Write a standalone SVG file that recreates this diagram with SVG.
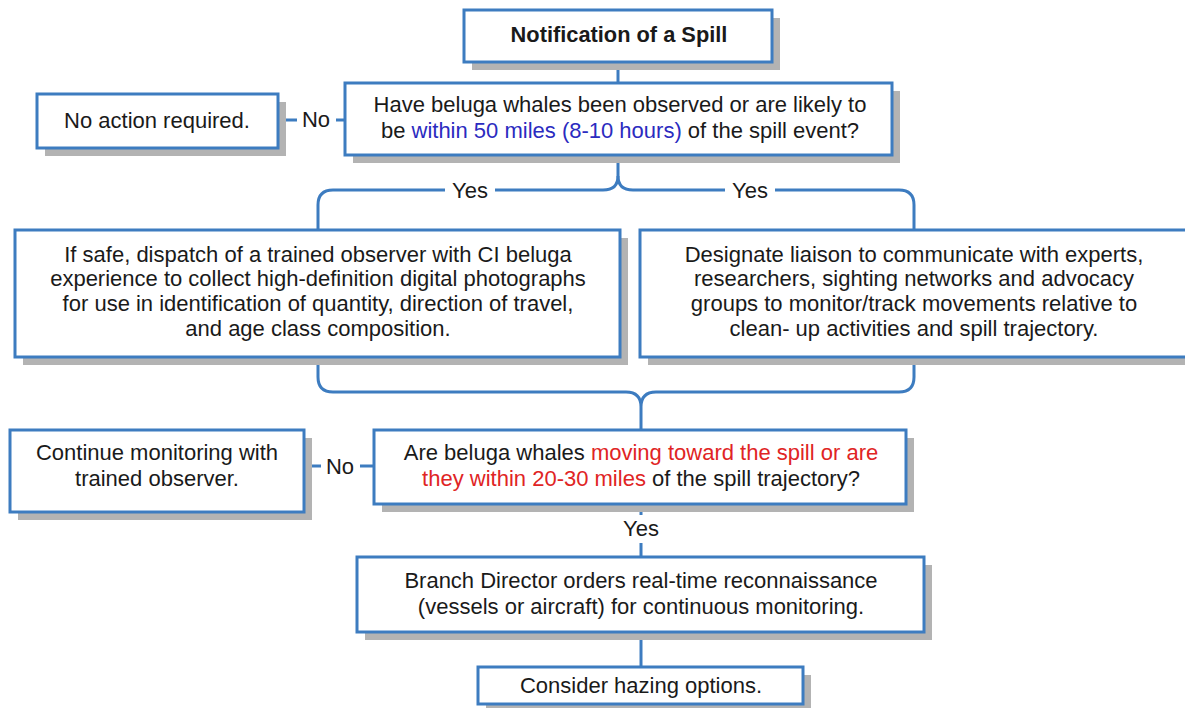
<svg xmlns="http://www.w3.org/2000/svg" width="1185" height="708" viewBox="0 0 1185 708">
<style>
.sh{fill:#b3b3b3}
.bx{fill:#fff;stroke:#3d7cc0;stroke-width:3}
.cn{fill:none;stroke:#3d7cc0;stroke-width:3}
text{font-family:"Liberation Sans",Arial,sans-serif;font-size:22px;fill:#1a1a1a;text-anchor:middle}
.b{font-weight:bold;font-size:21.8px}
.bl{fill:#2b2bc0}
.rd{fill:#e02424}
</style>
<rect width="1185" height="708" fill="#fff"/>
<g id="connectors">
<path class="cn" d="M618,62 V83"/>
<path class="cn" d="M278,120 H297 M336,120 H345"/>
<path class="cn" d="M618,155 V176 Q618,190 603,190 H495 M445,190 H333 Q318,190 318,205 V230"/>
<path class="cn" d="M618,176 Q618,190 633,190 H725 M775,190 H899 Q914,190 914,205 V230"/>
<path class="cn" d="M318,357 V377 Q318,392 333,392 H626 Q641,392 641,407 V430 M914,357 V377 Q914,392 899,392 H656 Q641,392 641,407"/>
<path class="cn" d="M304,466 H321 M360,466 H374"/>
<path class="cn" d="M641,504 V515 M641,543 V557"/>
<path class="cn" d="M641,632 V667"/>
<text x="316" y="127">No</text>
<text x="470" y="198">Yes</text>
<text x="750" y="198">Yes</text>
<text x="340" y="474">No</text>
<text x="641" y="536">Yes</text>
</g>
<g id="n1">
<rect class="sh" x="472" y="18" width="308" height="52"/>
<rect class="bx" x="464" y="10" width="308" height="52"/>
<text class="b" x="619" y="42">Notification of a Spill</text>
</g>
<g id="n2">
<rect class="sh" x="45" y="102" width="241" height="54"/>
<rect class="bx" x="37" y="94" width="241" height="54"/>
<text x="157" y="128">No action required.</text>
</g>
<g id="n3">
<rect class="sh" x="353" y="91" width="547" height="72"/>
<rect class="bx" x="345" y="83" width="547" height="72"/>
<text x="620" y="112">Have beluga whales been observed or are likely to</text>
<text x="620" y="138">be <tspan class="bl">within 50 miles (8-10 hours)</tspan> of the spill event?</text>
</g>
<g id="n4">
<rect class="sh" x="23" y="238" width="605" height="127"/>
<rect class="bx" x="15" y="230" width="605" height="127"/>
<text x="318" y="262">If safe, dispatch of a trained observer with CI beluga</text>
<text x="318" y="286">experience to collect high-definition digital photographs</text>
<text x="318" y="311">for use in identification of quantity, direction of travel,</text>
<text x="318" y="336">and age class composition.</text>
</g>
<g id="n5">
<rect class="sh" x="648" y="238" width="550" height="127"/>
<rect class="bx" x="640" y="230" width="550" height="127"/>
<text x="914" y="262">Designate liaison to communicate with experts,</text>
<text x="914" y="286">researchers, sighting networks and advocacy</text>
<text x="914" y="311">groups to monitor/track movements relative to</text>
<text x="914" y="336">clean- up activities and spill trajectory.</text>
</g>
<g id="n6">
<rect class="sh" x="382" y="438" width="532" height="74"/>
<rect class="bx" x="374" y="430" width="532" height="74"/>
<text x="641" y="460">Are beluga whales <tspan class="rd">moving toward the spill or are</tspan></text>
<text x="641" y="486"><tspan class="rd">they within 20-30 miles</tspan> of the spill trajectory?</text>
</g>
<g id="n7">
<rect class="sh" x="18" y="438" width="294" height="82"/>
<rect class="bx" x="10" y="430" width="294" height="82"/>
<text x="157" y="460">Continue monitoring with</text>
<text x="157" y="486">trained observer.</text>
</g>
<g id="n8">
<rect class="sh" x="365" y="565" width="567" height="75"/>
<rect class="bx" x="357" y="557" width="567" height="75"/>
<text x="641" y="588">Branch Director orders real-time reconnaissance</text>
<text x="641" y="614">(vessels or aircraft) for continuous monitoring.</text>
</g>
<g id="n9">
<rect class="sh" x="486" y="675" width="325" height="37"/>
<rect class="bx" x="478" y="667" width="325" height="37"/>
<text x="641" y="693">Consider hazing options.</text>
</g>
</svg>
